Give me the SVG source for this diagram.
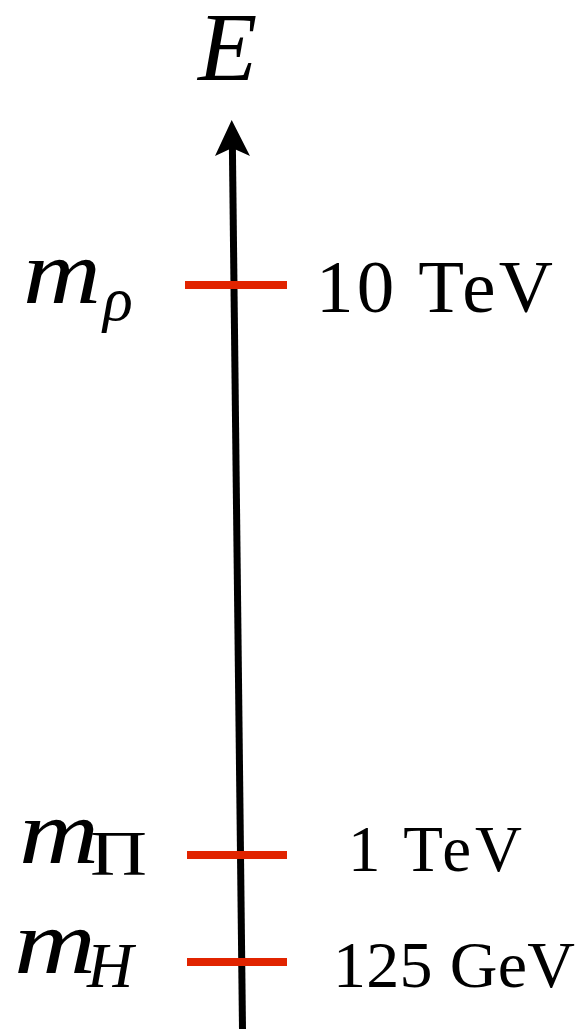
<svg xmlns="http://www.w3.org/2000/svg" width="579" height="1029" viewBox="0 0 579 1029">
  <style>
    .ital { font-family: "Liberation Serif", "DejaVu Serif", serif; font-style: italic; fill: #000; }
    .rom { font-family: "Liberation Serif", "DejaVu Serif", serif; fill: #000; }
    .tick { stroke: #e12400; stroke-width: 8; fill: none; }
    .axis { stroke: #000; stroke-width: 7; fill: none; }
  </style>
  <rect width="579" height="1029" fill="#fff"/>
  <g id="connectors">
    <line class="axis" x1="242.5" y1="1029" x2="232.4" y2="148"/>
    <path d="M231.7,120 L250,156 L232.2,148 L215,156 Z" fill="#000"/>
  </g>
  <g id="axis-label">
    <text class="ital" x="198" y="80" font-size="97">E</text>
  </g>
  <g id="level-rho">
    <line class="tick" x1="185" y1="285" x2="287" y2="285"/>
    <text class="ital" x="23" y="303" font-size="92" textLength="78" lengthAdjust="spacingAndGlyphs">m</text>
    <text class="ital" x="103" y="320" font-size="62">ρ</text>
    <text class="rom" x="316" y="312" font-size="75" textLength="237">10 TeV</text>
  </g>
  <g id="level-pi">
    <line class="tick" x1="187" y1="855" x2="287" y2="855"/>
    <text class="ital" x="19" y="863" font-size="92" textLength="80" lengthAdjust="spacingAndGlyphs">m</text>
    <text class="rom" x="90" y="875" font-size="64" textLength="57" lengthAdjust="spacingAndGlyphs">Π</text>
    <text class="rom" x="348" y="871" font-size="65" textLength="174">1 TeV</text>
  </g>
  <g id="level-h">
    <line class="tick" x1="187" y1="962" x2="287" y2="962"/>
    <text class="ital" x="14" y="973" font-size="92" textLength="82" lengthAdjust="spacingAndGlyphs">m</text>
    <text class="ital" x="87" y="987" font-size="64">H</text>
    <text class="rom" x="333" y="987" font-size="66" textLength="242">125 GeV</text>
  </g>
</svg>
